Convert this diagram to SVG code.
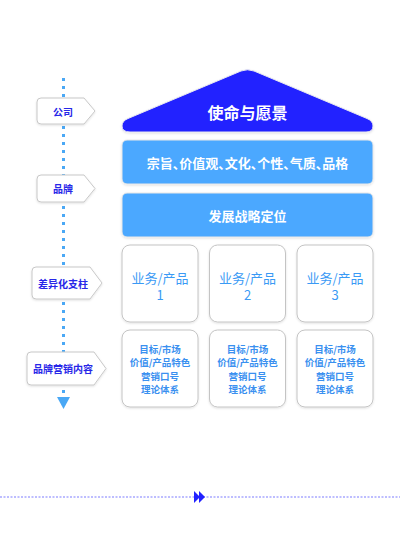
<svg xmlns="http://www.w3.org/2000/svg" width="400" height="533" viewBox="0 0 400 533">
<defs>
<filter id="sh" x="-10%" y="-10%" width="120%" height="130%">
<feDropShadow dx="0" dy="1" stdDeviation="1.2" flood-color="#000" flood-opacity="0.12"/>
</filter>
</defs>
<style>
text{font-family:"Noto Sans CJK SC","Noto Sans",sans-serif;text-anchor:middle;dominant-baseline:central}
.lab{fill:#fff;stroke:#c8c8c8;stroke-width:1;filter:url(#sh)}
.labt{fill:#2727e8;font-size:10px;font-weight:bold}
.bar{fill:#4ca8ff;stroke:#e8e8e8;stroke-width:1;filter:url(#sh)}
.bart{fill:#fff;font-size:13px;font-weight:bold}
.card{fill:#fff;stroke:#c4c4c4;stroke-width:1;filter:url(#sh)}
.cardt{fill:#3a9af5;font-size:13px}
.smt{fill:#3a90f0;font-size:9.5px;font-weight:bold}
</style>
<rect width="400" height="533" fill="#fff"/>
<g id="connectors">
<line x1="63.5" y1="78" x2="63.5" y2="398" stroke="#4aa8f5" stroke-width="3" stroke-dasharray="3 5"/>
<polygon points="57,397 70,397 63.5,409" fill="#4aa8f5"/>
<line x1="0" y1="497" x2="400" y2="497" stroke="#a8a8ff" stroke-width="1.5" stroke-dasharray="2 1.5"/>
<polygon points="194,491 200,497 194,503" fill="#2222ff"/>
<polygon points="199,491 205,497 199,503" fill="#2222ff"/>
</g>
<g id="label-gongsi">
<path class="lab" d="M41 98 L84 98 L95 111 L84 124 L41 124 Q37 124 37 120 L37 102 Q37 98 41 98 Z"/>
<text class="labt" x="63" y="111">公司</text>
</g>
<g id="label-pinpai">
<path class="lab" d="M41 175 L84 175 L95 188.5 L84 202 L41 202 Q37 202 37 198 L37 179 Q37 175 41 175 Z"/>
<text class="labt" x="63" y="188.5">品牌</text>
</g>
<g id="label-chayi">
<path class="lab" d="M36 267 L90 267 L102 283 L90 299 L36 299 Q32 299 32 295 L32 271 Q32 267 36 267 Z"/>
<text class="labt" x="63" y="283">差异化支柱</text>
</g>
<g id="label-yingxiao">
<path class="lab" d="M31 352 L94 352 L106 368.5 L94 385 L31 385 Q27 385 27 381 L27 356 Q27 352 31 352 Z"/>
<text class="labt" x="63" y="368.5">品牌营销内容</text>
</g>
<g id="roof">
<path d="M130 132 Q122 132 122 126 Q122 121 128 118.5 L241 71 Q247.5 68.5 254 71 L367 118.5 Q373 121 373 126 Q373 132 366 132 Z" fill="#2020ff" stroke="#e8e8f0" stroke-width="1" filter="url(#sh)"/>
<text x="247.5" y="112" fill="#fff" font-size="16" font-weight="bold">使命与愿景</text>
</g>
<g id="bar-values">
<rect class="bar" x="122" y="140" width="251" height="44" rx="5"/>
<text class="bart" x="247.5" y="162" style="font-feature-settings:'halt'">宗旨、价值观、文化、个性、气质、品格</text>
</g>
<g id="bar-strategy">
<rect class="bar" x="122" y="193" width="251" height="44" rx="5"/>
<text class="bart" x="247.5" y="215">发展战略定位</text>
</g>
<g id="card-1">
<rect class="card" x="122" y="245" width="76" height="77" rx="8"/>
<text class="cardt" x="160" y="277">业务/产品</text>
<text class="cardt" x="160" y="294.5">1</text>
</g>
<g id="card-2">
<rect class="card" x="209.5" y="245" width="76" height="77" rx="8"/>
<text class="cardt" x="247.5" y="277">业务/产品</text>
<text class="cardt" x="247.5" y="294.5">2</text>
</g>
<g id="card-3">
<rect class="card" x="297" y="245" width="76" height="77" rx="8"/>
<text class="cardt" x="335" y="277">业务/产品</text>
<text class="cardt" x="335" y="294.5">3</text>
</g>
<g id="content-1">
<rect class="card" x="122" y="330" width="76" height="77" rx="8"/>
<text class="smt" x="160" y="348.5">目标/市场</text>
<text class="smt" x="160" y="362">价值/产品特色</text>
<text class="smt" x="160" y="375.5">营销口号</text>
<text class="smt" x="160" y="389">理论体系</text>
</g>
<g id="content-2">
<rect class="card" x="209.5" y="330" width="76" height="77" rx="8"/>
<text class="smt" x="247.5" y="348.5">目标/市场</text>
<text class="smt" x="247.5" y="362">价值/产品特色</text>
<text class="smt" x="247.5" y="375.5">营销口号</text>
<text class="smt" x="247.5" y="389">理论体系</text>
</g>
<g id="content-3">
<rect class="card" x="297" y="330" width="76" height="77" rx="8"/>
<text class="smt" x="335" y="348.5">目标/市场</text>
<text class="smt" x="335" y="362">价值/产品特色</text>
<text class="smt" x="335" y="375.5">营销口号</text>
<text class="smt" x="335" y="389">理论体系</text>
</g>
</svg>
